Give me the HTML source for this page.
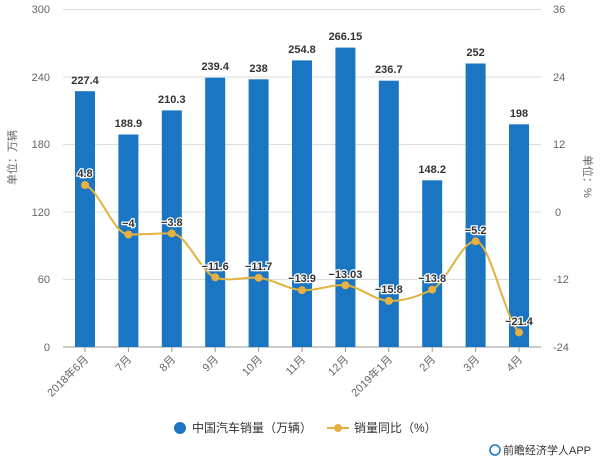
<!DOCTYPE html>
<html><head><meta charset="utf-8"><style>
body{margin:0;background:#fff;}
svg{display:block;font-family:"Liberation Sans","Noto Sans CJK SC",sans-serif;}
.ax{font-size:11px;fill:#666;}
.bv{font-size:11px;font-weight:bold;fill:#333;text-anchor:middle;}
.lv{font-size:11px;font-weight:bold;fill:#333;text-anchor:middle;stroke:#fff;stroke-width:2.5px;paint-order:stroke;}
</style></head><body>
<svg width="601" height="463" viewBox="0 0 601 463">
<g stroke="#ddd" stroke-width="1">
<line x1="63" y1="9.5" x2="541" y2="9.5"/><line x1="63" y1="77" x2="541" y2="77"/>
<line x1="63" y1="144.5" x2="541" y2="144.5"/><line x1="63" y1="212" x2="541" y2="212"/>
<line x1="63" y1="279.5" x2="541" y2="279.5"/>
</g>
<line x1="63" y1="347" x2="541" y2="347" stroke="#999"/>
<g class="ax" text-anchor="end">
<text x="50" y="13">300</text><text x="50" y="81">240</text><text x="50" y="148">180</text>
<text x="50" y="216">120</text><text x="50" y="283">60</text><text x="50" y="351">0</text>
</g>
<g class="ax" text-anchor="start">
<text x="553" y="13">36</text><text x="553" y="81">24</text><text x="553" y="148">12</text>
<text x="555" y="216">0</text><text x="553" y="283">-12</text><text x="553" y="351">-24</text>
</g>
<text class="ax" transform="translate(16,185) rotate(-90)" font-size="12">单位：万辆</text>
<text class="ax" transform="translate(584,155) rotate(90)" font-size="12">单位：%</text>
<g fill="#1a75c2">
<rect x="75" y="91.2" width="20" height="255.8"/>
<rect x="118.4" y="134.5" width="20" height="212.5"/>
<rect x="161.8" y="110.4" width="20" height="236.6"/>
<rect x="205.2" y="77.7" width="20" height="269.3"/>
<rect x="248.6" y="79.3" width="20" height="267.7"/>
<rect x="292" y="60.4" width="20" height="286.6"/>
<rect x="335.4" y="47.6" width="20" height="299.4"/>
<rect x="378.8" y="80.7" width="20" height="266.3"/>
<rect x="422.2" y="180.3" width="20" height="166.7"/>
<rect x="465.6" y="63.5" width="20" height="283.5"/>
<rect x="509" y="124.3" width="20" height="222.7"/>
</g>
<g stroke="#999">
<line x1="85" y1="347" x2="85" y2="352"/><line x1="128.4" y1="347" x2="128.4" y2="352"/>
<line x1="171.8" y1="347" x2="171.8" y2="352"/><line x1="215.2" y1="347" x2="215.2" y2="352"/>
<line x1="258.6" y1="347" x2="258.6" y2="352"/><line x1="302" y1="347" x2="302" y2="352"/>
<line x1="345.4" y1="347" x2="345.4" y2="352"/><line x1="388.8" y1="347" x2="388.8" y2="352"/>
<line x1="432.2" y1="347" x2="432.2" y2="352"/><line x1="475.6" y1="347" x2="475.6" y2="352"/>
<line x1="519" y1="347" x2="519" y2="352"/>
</g>
<g class="bv">
<text x="85" y="84">227.4</text><text x="128.4" y="127">188.9</text><text x="171.8" y="103">210.3</text>
<text x="215.2" y="70">239.4</text><text x="258.6" y="72">238</text><text x="302" y="53">254.8</text>
<text x="345.4" y="40">266.15</text><text x="388.8" y="73">236.7</text><text x="432.2" y="173">148.2</text>
<text x="475.6" y="56">252</text><text x="519" y="117">198</text>
</g>
<path d="M85,185 C99.5,190 113.9,234.5 128.4,234.5 C142.9,234.5 157.3,233.4 171.8,233.4 C186.3,233.4 200.7,272.2 215.2,277.3 C229.7,282.4 244.1,276.3 258.6,277.8 C273.1,279.3 287.5,289.3 302,290.2 C316.5,291.1 330.9,284.1 345.4,285.3 C359.9,286.5 374.3,300.4 388.8,300.9 C403.3,301.4 417.7,296.5 432.2,289.6 C446.7,282.7 461.1,241.3 475.6,241.3 C490.1,241.3 504.5,317.4 519,332.4" fill="none" stroke="#e0b43c" stroke-width="2"/>
<g fill="#e8b040">
<circle cx="85" cy="185" r="4"/><circle cx="128.4" cy="234.5" r="4"/><circle cx="171.8" cy="233.4" r="4"/>
<circle cx="215.2" cy="277.3" r="4"/><circle cx="258.6" cy="277.8" r="4"/><circle cx="302" cy="290.2" r="4"/>
<circle cx="345.4" cy="285.3" r="4"/><circle cx="388.8" cy="300.9" r="4"/><circle cx="432.2" cy="289.6" r="4"/>
<circle cx="475.6" cy="241.3" r="4"/><circle cx="519" cy="332.4" r="4"/>
</g>
<g class="lv">
<text x="85" y="177">4.8</text><text x="128.4" y="227">−4</text><text x="171.8" y="226">−3.8</text>
<text x="215.2" y="270">−11.6</text><text x="258.6" y="270">−11.7</text><text x="302" y="282">−13.9</text>
<text x="345.4" y="278">−13.03</text><text x="388.8" y="293">−15.8</text><text x="432.2" y="282">−13.8</text>
<text x="475.6" y="234">−5.2</text><text x="519" y="325">−21.4</text>
</g>
<g class="ax" text-anchor="end">
<text transform="translate(89,360) rotate(-45)">2018年6月</text>
<text transform="translate(132,360) rotate(-45)">7月</text>
<text transform="translate(176,360) rotate(-45)">8月</text>
<text transform="translate(219,360) rotate(-45)">9月</text>
<text transform="translate(263,360) rotate(-45)">10月</text>
<text transform="translate(306,360) rotate(-45)">11月</text>
<text transform="translate(349,360) rotate(-45)">12月</text>
<text transform="translate(393,360) rotate(-45)">2019年1月</text>
<text transform="translate(436,360) rotate(-45)">2月</text>
<text transform="translate(480,360) rotate(-45)">3月</text>
<text transform="translate(523,360) rotate(-45)">4月</text>
</g>
<circle cx="180" cy="428" r="6" fill="#1a75c2"/>
<text x="192" y="432" font-size="12" fill="#333">中国汽车销量（万辆）</text>
<line x1="327" y1="428" x2="349" y2="428" stroke="#e0b43c" stroke-width="2"/>
<circle cx="338" cy="428" r="4" fill="#e8b040"/>
<text x="354" y="432" font-size="12" fill="#333">销量同比（%）</text>
<circle cx="495" cy="450" r="5" fill="none" stroke="#1a75c2" stroke-width="1.5"/>
<text x="503" y="454" font-size="11" fill="#333">前瞻经济学人APP</text>
</svg>
</body></html>
